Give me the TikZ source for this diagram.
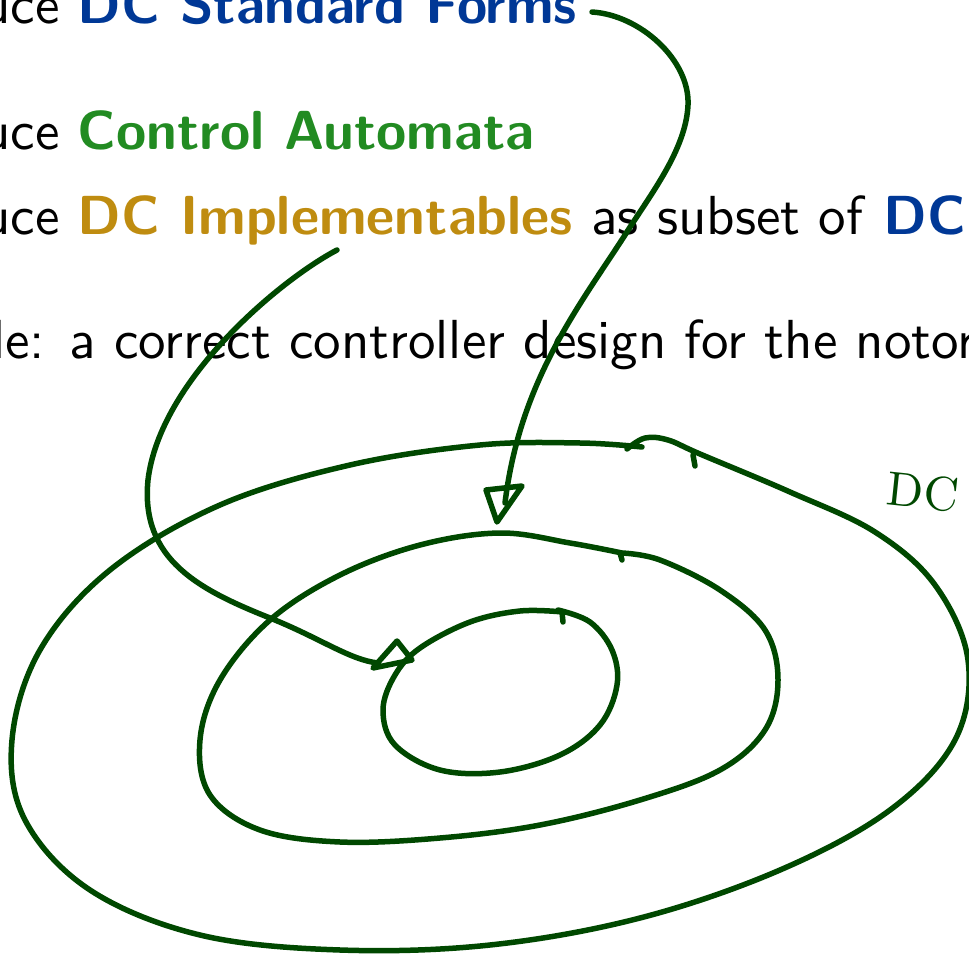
\documentclass[tikz,border=0pt]{standalone}
\usepackage{fontspec}
\setmainfont{lmroman10-regular.otf}[ItalicFont=lmroman10-italic.otf]
\setsansfont{lmsans10-regular.otf}[BoldFont=lmsans10-bold.otf]
\usepackage{tikz}
\usetikzlibrary{positioning,calc}
\definecolor{dcblue}{RGB}{0,56,150}
\definecolor{ctrlgreen}{RGB}{34,139,34}
\definecolor{implgold}{RGB}{191,140,16}
\definecolor{pengreen}{RGB}{0,72,0}

\begin{document}
\begin{tikzpicture}[x=1pt,y=-1pt,font=\sffamily\fontsize{55}{66}\selectfont,
  txt/.style={anchor=base west,inner sep=0pt},
  pen/.style={draw=pengreen,line width=5.5pt,line cap=round,line join=round}]
  \useasboundingbox (0,0) rectangle (969,960);
  % slide text
  \node[txt] (forms) at (-18,24) {uce \textbf{\color{dcblue}DC Standard Forms}};
  \node[txt] (autom) at (-18,150) {uce \textbf{\color{ctrlgreen}Control Automata}};
  \node[txt] (impl) at (-18,235) {uce \textbf{\color{implgold}DC Implementables} as subset of \textbf{\color{dcblue}DC}};
  \node[txt] (expl) at (-8,358) {le: a correct controller design for the notor};
  % hand-drawn nested sets
  \draw[pen] plot[smooth,tension=0.6] coordinates {(627,449) (645,438) (668,440) (700,454)
    (790,492) (875,532) (935,585) (968,660) (955,740) (890,810) (780,870) (640,918)
    (490,945) (340,950) (200,935) (90,890) (25,820) (12,740) (40,650) (110,570)
    (220,505) (350,465) (480,445) (580,443) (642,447)};
  \draw[pen] (693,455) -- (695,466);
  \draw[pen] plot[smooth,tension=0.6] coordinates {(622,553) (660,560) (720,590) (765,630)
    (778,680) (765,730) (720,770) (640,800) (540,825) (440,838) (340,842) (260,830)
    (210,795) (200,740) (220,680) (270,620) (340,575) (420,545) (500,533) (570,543)
    (622,553)};
  \draw[pen] (620,553) -- (622,560);
  \draw[pen] plot[smooth,tension=0.6] coordinates {(558,610) (590,622) (612,650) (617,685)
    (600,725) (560,755) (500,772) (440,770) (395,745) (383,710) (395,675) (420,648)
    (470,622) (520,611) (563,612)};
  \draw[pen] (562,612) -- (563,622);
  % label of the outer set
  \node[inner sep=0pt,text=pengreen,rotate=-6] (dclab) at (923,492)
    {\rmfamily\fontsize{48}{58}\selectfont DC};
  % arrows from the text to the sets
  \coordinate (formsTail) at (592,12);
  \coordinate (formsTip) at (505,503);
  \draw[pen] (formsTail) .. controls (640,15) and (690,60) .. (688,105)
    .. controls (686,150) and (650,195) .. (625,235)
    .. controls (580,305) and (520,380) .. (formsTip);
  \draw[pen] (486,490) -- (522,486) -- (497,522) -- cycle;
  \coordinate (implTail) at (337,250);
  \coordinate (implTip) at (378,663);
  \draw[pen] (implTail) .. controls (280,280) and (160,380) .. (148,480)
    .. controls (140,560) and (200,590) .. (270,618)
    .. controls (320,638) and (350,660) .. (implTip);
  \draw[pen] (373,668) -- (397,641) -- (412,660) -- cycle;
\end{tikzpicture}
\end{document}
